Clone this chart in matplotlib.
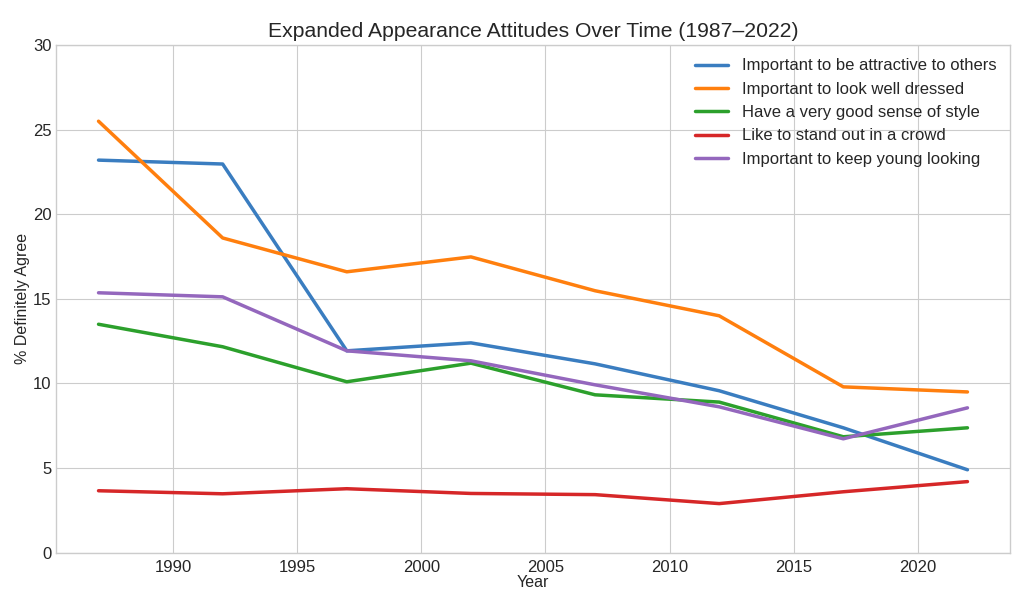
import matplotlib
matplotlib.use("Agg")
import matplotlib.pyplot as plt

years = [1987, 1992, 1997, 2002, 2007, 2012, 2017, 2022]
attractive = [23.2, 22.97, 11.93, 12.4, 11.16, 9.57, 7.38, 4.9]
well_dressed = [25.5, 18.6, 16.6, 17.48, 15.48, 14.0, 9.8, 9.5]
good_style = [13.5, 12.17, 10.1, 11.2, 9.33, 8.9, 6.85, 7.38]
stand_out = [3.66, 3.48, 3.78, 3.5, 3.43, 2.9, 3.6, 4.2]
young_looking = [15.36, 15.12, 11.93, 11.34, 9.92, 8.62, 6.73, 8.56]

labels = [
    "Important to be attractive to others",
    "Important to look well dressed",
    "Have a very good sense of style",
    "Like to stand out in a crowd",
    "Important to keep young looking",
]
series = [attractive, well_dressed, good_style, stand_out, young_looking]
colors = ["#3a7dc0", "#ff7f0e", "#2ca02c", "#d62728", "#9467bd"]

plt.style.use("seaborn-v0_8-whitegrid")
plt.rcParams["font.family"] = ["Liberation Sans", "DejaVu Sans"]

fig, ax = plt.subplots(figsize=(10.24, 5.93), dpi=100)
fig.subplots_adjust(left=0.055, right=0.986, top=0.924, bottom=0.068)

for vals, lab, c in zip(series, labels, colors):
    ax.plot(years, vals, color=c, linewidth=2.5, label=lab)

ax.set_ylim(0, 30)
ax.set_xlim(1985.3, 2023.7)
ax.set_title("Expanded Appearance Attitudes Over Time (1987\u20132022)", fontsize=15.2, color="#262626")
ax.set_xlabel("Year", fontsize=11.5, labelpad=0)
ax.set_ylabel("% Definitely Agree", fontsize=11.5, labelpad=2)
ax.tick_params(labelsize=12)
ax.tick_params(axis="x", pad=5)
for s in ax.spines.values():
    s.set_visible(True)
    s.set_color("#cccccc")
ax.legend(loc="upper right", fontsize=12, frameon=False, borderaxespad=0.4)

fig.savefig("out.png", dpi=100)
